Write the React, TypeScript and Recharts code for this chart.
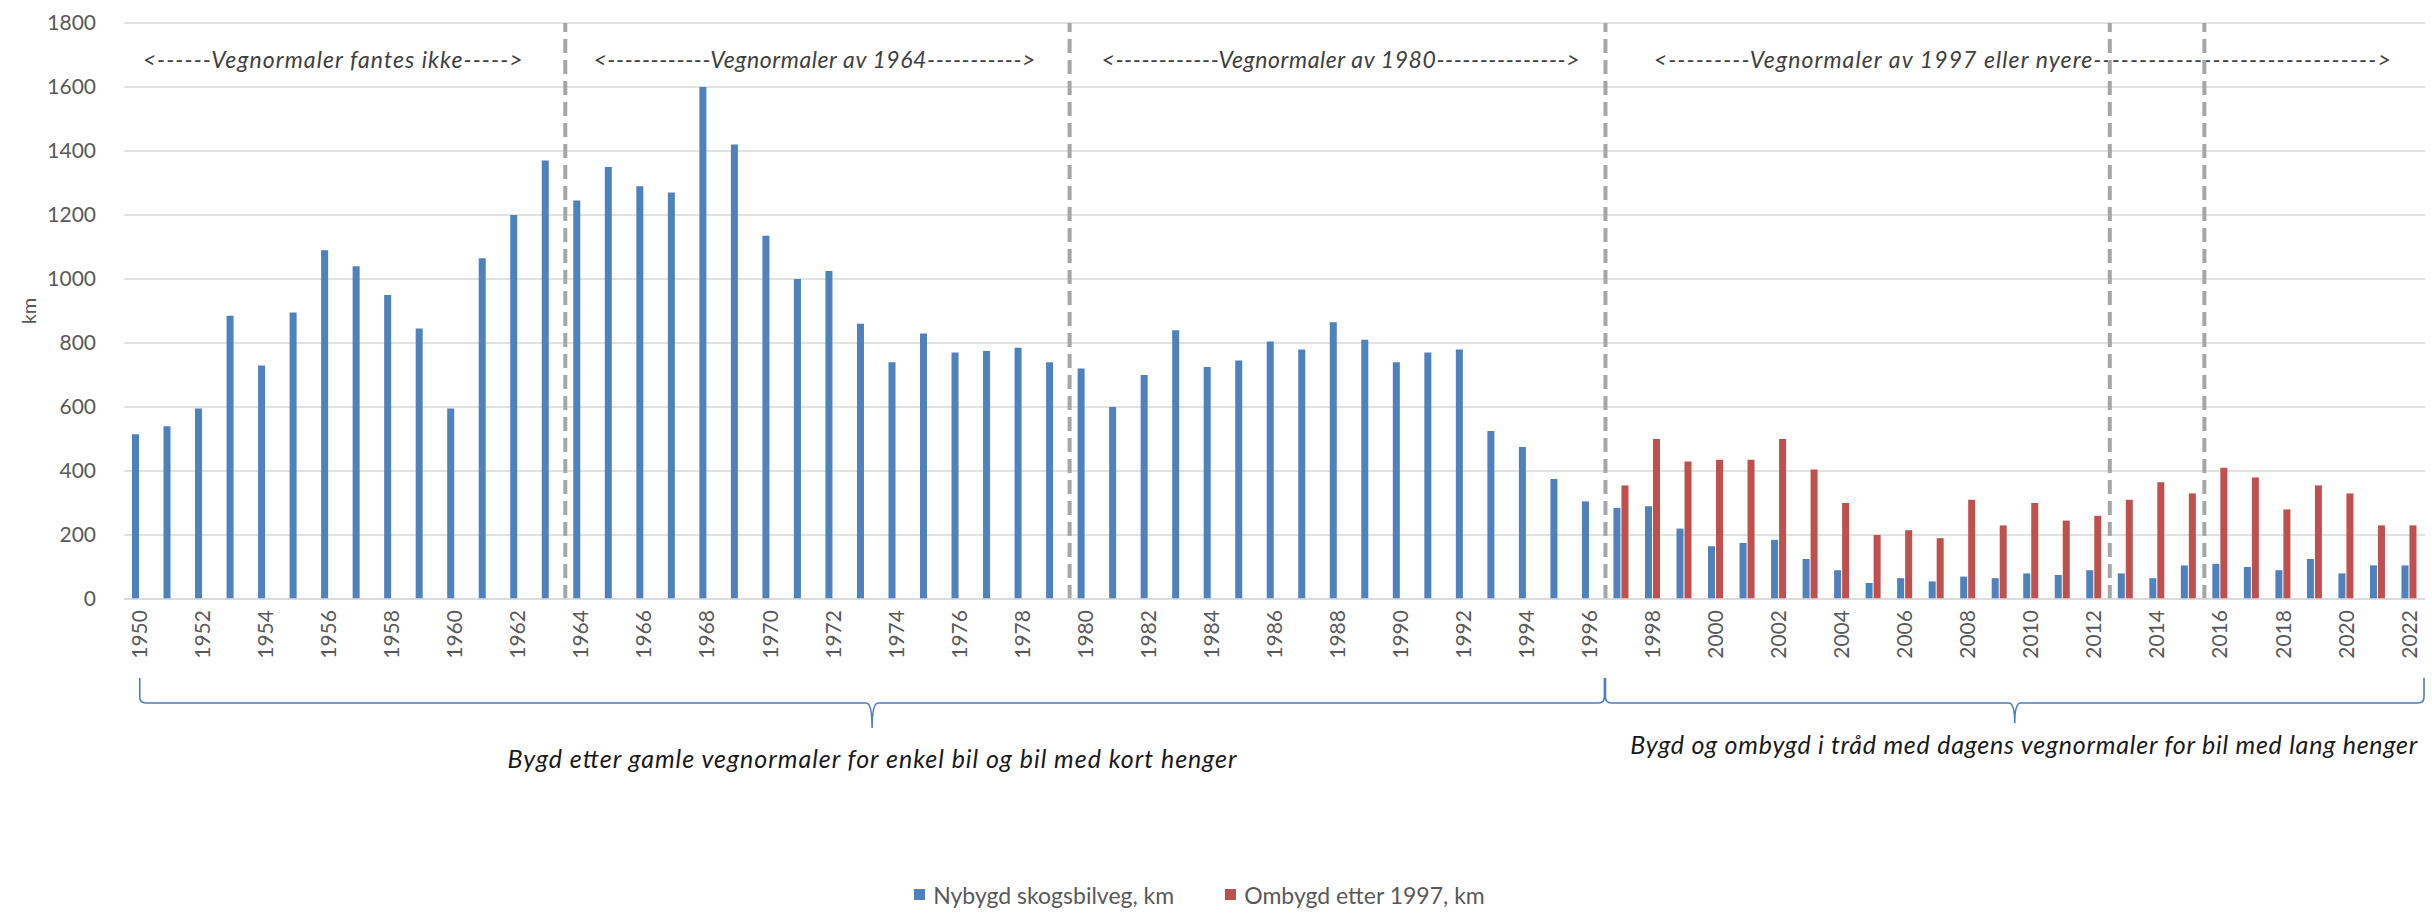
import React from 'react';
import {
  BarChart,
  Bar,
  XAxis,
  YAxis,
  CartesianGrid,
  ReferenceLine,
  ReferenceArea,
  Legend,
} from 'recharts';

const years = [
  '1950', '1951', '1952', '1953', '1954', '1955', '1956', '1957', '1958', '1959',
  '1960', '1961', '1962', '1963', '1964', '1965', '1966', '1967', '1968', '1969',
  '1970', '1971', '1972', '1973', '1974', '1975', '1976', '1977', '1978', '1979',
  '1980', '1981', '1982', '1983', '1984', '1985', '1986', '1987', '1988', '1989',
  '1990', '1991', '1992', '1993', '1994', '1995', '1996', '1997', '1998', '1999',
  '2000', '2001', '2002', '2003', '2004', '2005', '2006', '2007', '2008', '2009',
  '2010', '2011', '2012', '2013', '2014', '2015', '2016', '2017', '2018', '2019',
  '2020', '2021', '2022',
];

// Nybygd skogsbilveg, km (1950-2022)
const nybygd = [
  515, 540, 595, 885, 730, 895, 1090, 1040, 950, 845,
  595, 1065, 1200, 1370, 1245, 1350, 1290, 1270, 1600, 1420,
  1135, 1000, 1025, 860, 740, 830, 770, 775, 785, 740,
  720, 600, 700, 840, 725, 745, 805, 780, 865, 810,
  740, 770, 780, 525, 475, 375, 305, 285, 290, 220,
  165, 175, 185, 125, 90, 50, 65, 55, 70, 65,
  80, 75, 90, 80, 65, 105, 110, 100, 90, 125,
  80, 105, 105,
];

// Ombygd etter 1997, km (1997-2022)
const ombygdFirstYear = '1997';
const ombygd = [
  355, 500, 430, 435, 435, 500, 405, 300, 200, 215,
  190, 310, 230, 300, 245, 260, 310, 365, 330, 410,
  380, 280, 355, 330, 230, 230,
];

const yTicks = [0, 200, 400, 600, 800, 1000, 1200, 1400, 1600, 1800];

// dashed separators drawn at the end of these years
const dividerYears = ['1963', '1979', '1996', '2012', '2015'];

const periods = [
  { from: '1950', to: '1963', text: '<------Vegnormaler fantes ikke----->' },
  { from: '1964', to: '1979', text: '<------------Vegnormaler av 1964----------->' },
  { from: '1980', to: '1996', text: '<------------Vegnormaler av 1980--------------->' },
  {
    from: '1997',
    to: '2022',
    text: '<---------Vegnormaler av 1997 eller nyere------------------------------->',
  },
];

const braces = [
  {
    from: '1950',
    to: '1996',
    fromCenter: true,
    text: 'Bygd etter gamle vegnormaler for enkel bil og bil med kort henger',
  },
  {
    from: '1997',
    to: '2022',
    fromCenter: false,
    text: 'Bygd og ombygd i tråd med dagens vegnormaler for bil med lang henger',
  },
];

// rendered text widths (px) so the narrow Calibri look is kept
const periodTextWidth = [380, 442, 478, 737];
const periodTextShift = [-12, -3, 3, 7];
const braceTextWidth = [729, 787];

const BLUE = '#4f81bd';
const RED = '#c0504d';
const FONT = 'Lato, "Open Sans", sans-serif';

const startIdx = years.indexOf(ombygdFirstYear);
const data = years.map((year, i) => ({
  year,
  nybygd: nybygd[i],
  ombygd: i >= startIdx ? ombygd[i - startIdx] : null,
}));

const YearTick = (props: any) => {
  const { x, y, payload } = props;
  const ty = y + 3;
  return (
    <text
      x={x}
      y={ty}
      transform={`rotate(-90 ${x} ${ty})`}
      textAnchor='end'
      dy='0.35em'
      fill='#595959'
      fontSize={21}
      fontFamily={FONT}
    >
      {payload.value}
    </text>
  );
};

const PeriodLabel = (props: any) => {
  const { x, y, width, height, text, idx } = props;
  return (
    <text
      x={x + width / 2 + periodTextShift[idx]}
      y={y + height / 2 + 4}
      textAnchor='middle'
      dominantBaseline='central'
      fontStyle='italic'
      fill='#404040'
      fontSize={23}
      fontFamily={FONT}
      textLength={periodTextWidth[idx]}
      lengthAdjust='spacing'
    >
      {text}
    </text>
  );
};

const Brace = (props: any) => {
  const { x, y, width, height, text, from, to, fromCenter, idx } = props;
  const second = idx === 1;
  const count = years.indexOf(to) - years.indexOf(from) + 1;
  const band = width / count;
  const x0 = fromCenter ? x + band / 2 : x;
  const x1 = x + width - 1;
  const base = y + height;
  const yTop = base + 79;
  const yMid = base + 104;
  const yCusp = base + (second ? 124 : 129);
  const xc = (x0 + x1) / 2;
  const r = 6;
  const d = [
    `M ${x0} ${yTop}`,
    `L ${x0} ${yMid - r}`,
    `Q ${x0} ${yMid} ${x0 + r} ${yMid}`,
    `L ${xc - r} ${yMid}`,
    `Q ${xc} ${yMid} ${xc} ${yCusp}`,
    `Q ${xc} ${yMid} ${xc + r} ${yMid}`,
    `L ${x1 - r} ${yMid}`,
    `Q ${x1} ${yMid} ${x1} ${yMid - r}`,
    `L ${x1} ${yTop}`,
  ].join(' ');
  return (
    <g>
      <path d={d} fill='none' stroke='#4a7ebb' strokeWidth={1.6} />
      <text
        x={xc + (second ? 9 : 0)}
        y={base + (second ? 145 : 159)}
        textAnchor='middle'
        dominantBaseline='central'
        fontStyle='italic'
        fill='#1a1a1a'
        fontSize={25}
        fontFamily={FONT}
        textLength={braceTextWidth[idx]}
        lengthAdjust='spacing'
      >
        {text}
      </text>
    </g>
  );
};

const KmLabel = (props: any) => {
  const { viewBox } = props;
  const lx = viewBox.x + 28;
  const ly = viewBox.y + viewBox.height / 2;
  return (
    <text
      x={lx}
      y={ly}
      transform={`rotate(-90 ${lx} ${ly})`}
      textAnchor='middle'
      dominantBaseline='central'
      fill='#595959'
      fontSize={20}
      fontFamily={FONT}
    >
      km
    </text>
  );
};

const LegendContent = () => (
  <div
    style={{
      height: 39,
      display: 'flex',
      justifyContent: 'center',
      alignItems: 'center',
      gap: 51,
      paddingRight: 26,
      fontFamily: FONT,
      fontSize: 23,
      color: '#595959',
    }}
  >
    {[
      { label: 'Nybygd skogsbilveg, km', color: BLUE },
      { label: 'Ombygd etter 1997, km', color: RED },
    ].map((item) => (
      <div key={item.label} style={{ display: 'flex', alignItems: 'center' }}>
        <span
          style={{
            display: 'inline-block',
            width: 11,
            height: 11,
            background: item.color,
            marginRight: 8,
          }}
        />
        {item.label}
      </div>
    ))}
  </div>
);

export default function App() {
  return (
    <div style={{ position: 'absolute', left: 0, top: 0, background: '#fff' }}>
      <BarChart
        width={2432}
        height={914}
        data={data}
        margin={{ top: 23, right: 7, left: 0, bottom: 0 }}
        barSize={7}
        barGap={1}
      >
        <CartesianGrid vertical={false} stroke='#d9d9d9' strokeWidth={1.5} />
        <XAxis
          dataKey='year'
          interval={1}
          tickLine={false}
          axisLine={{ stroke: '#d9d9d9', strokeWidth: 1.5 }}
          height={276}
          tick={<YearTick />}
        />
        <YAxis
          width={124}
          domain={[0, 1800]}
          ticks={yTicks}
          axisLine={false}
          tickLine={false}
          tickMargin={22}
          tick={{ fill: '#595959', fontSize: 21, fontFamily: FONT }}
          label={<KmLabel />}
        />
        <Legend verticalAlign='bottom' content={() => <LegendContent />} />
        {periods.map((p, i) => (
          <ReferenceArea
            key={p.from}
            x1={p.from}
            x2={p.to}
            y1={1600}
            y2={1800}
            ifOverflow='visible'
            shape={(sp: any) => <PeriodLabel {...sp} text={p.text} idx={i} />}
          />
        ))}
        {braces.map((b, i) => (
          <ReferenceArea
            key={b.from}
            x1={b.from}
            x2={b.to}
            y1={0}
            y2={1800}
            ifOverflow='visible'
            shape={(sp: any) => (
              <Brace
                {...sp}
                text={b.text}
                from={b.from}
                to={b.to}
                fromCenter={b.fromCenter}
                idx={i}
              />
            )}
          />
        ))}
        <Bar dataKey='nybygd' name='Nybygd skogsbilveg, km' fill={BLUE} isAnimationActive={false} />
        <Bar dataKey='ombygd' name='Ombygd etter 1997, km' fill={RED} isAnimationActive={false} />
        {dividerYears.map((yr) => (
          <ReferenceLine
            key={yr}
            x={yr}
            position='end'
            stroke='#a6a6a6'
            strokeWidth={4}
            strokeDasharray='14 7'
          />
        ))}
      </BarChart>
    </div>
  );
}
